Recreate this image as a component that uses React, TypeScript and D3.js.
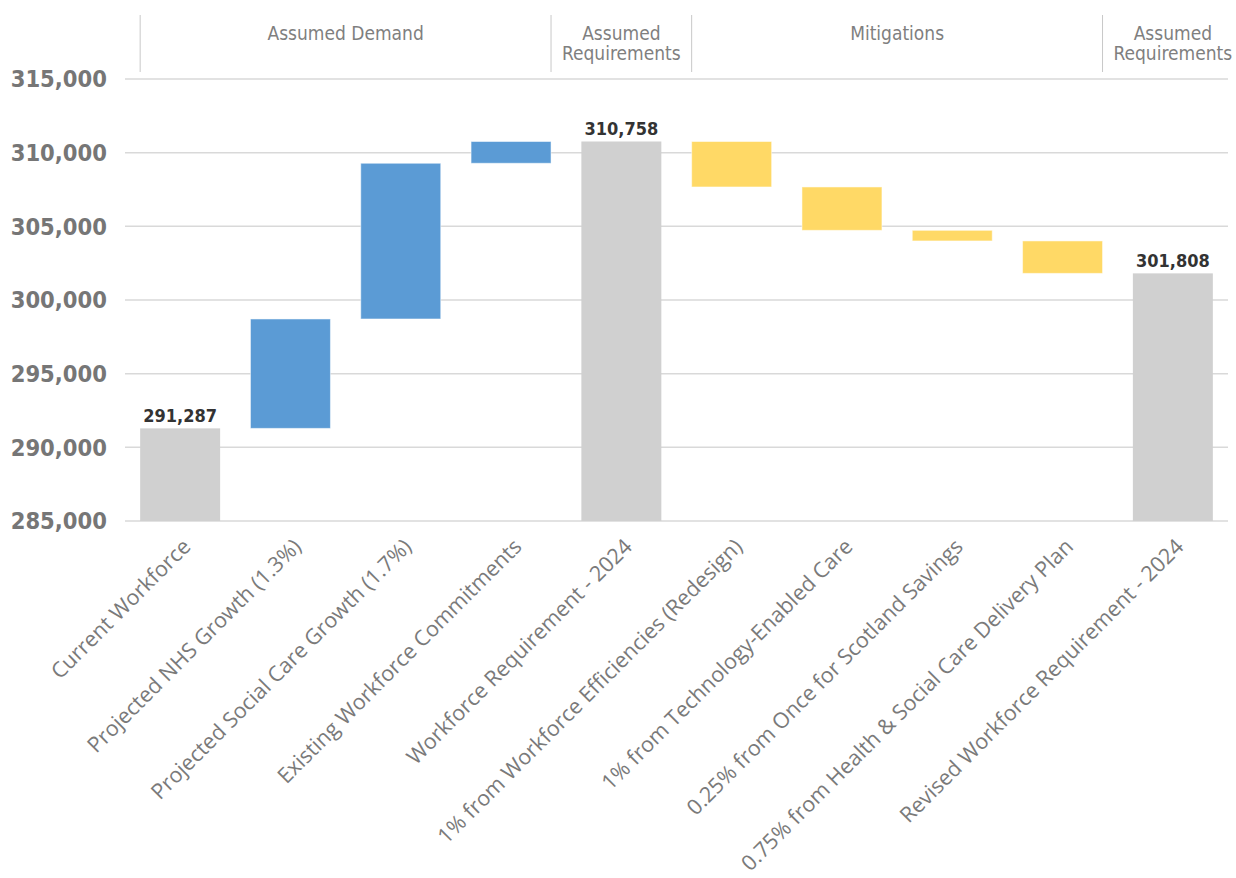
import React from 'react';
import * as d3 from 'd3';

// chart data
const categories = [
  'Current Workforce',
  'Projected NHS Growth (1.3%)',
  'Projected Social Care Growth (1.7%)',
  'Existing Workforce Commitments',
  'Workforce Requirement - 2024',
  '1% from Workforce Efficiencies (Redesign)',
  '1% from Technology-Enabled Care',
  '0.25% from Once for Scotland Savings',
  '0.75% from Health & Social Care Delivery Plan',
  'Revised Workforce Requirement - 2024',
];
// 'total' bars show the running level, 'up'/'down' are changes
const kinds = ['total', 'up', 'up', 'up', 'total', 'down', 'down', 'down', 'down', 'total'];
const changes = [291287, 7425, 10569, 1477, 0, 3086, 2943, 720, 2201, 0];

const groupLabels = [['Assumed Demand'], ['Assumed', 'Requirements'], ['Mitigations'], ['Assumed', 'Requirements']];
const groupStart = [0, 4, 5, 9];
const groupEnd = [3, 4, 8, 9];

const yTicks = [285000, 290000, 295000, 300000, 305000, 310000, 315000];

const colors: Record<string, string> = { total: '#d0d0d0', up: '#5b9bd5', down: '#ffd966' };

const W = 1236;
const H = 878;
const narrow = "'Liberation Sans Narrow', 'DejaVu Sans Condensed', sans-serif";

const App: React.FC = () => {
  const x = d3.scaleBand<string>()
    .domain(categories)
    .range([125, 1228])
    .paddingInner(0.275)
    .paddingOuter(0.1375);

  const y = d3.scaleLinear().domain([285000, 315000]).range([521, 79]);

  // running totals for the waterfall
  let level = 0;
  const bars = categories.map((c, i) => {
    const k = kinds[i];
    let lo: number, hi: number;
    if (k === 'total') {
      if (i === 0) level = changes[i];
      lo = y.domain()[0];
      hi = level;
    } else if (k === 'up') {
      lo = level;
      level += changes[i];
      hi = level;
    } else {
      hi = level;
      level -= changes[i];
      lo = level;
    }
    return { c, k, lo, hi, i };
  });

  const bw = x.bandwidth();
  const fmt = d3.format(',');
  const cx = (i: number) => (x(categories[i]) as number) + bw / 2;

  const seps: number[] = [];
  groupStart.forEach((s, g) => {
    if (groupEnd[g] > s) {
      seps.push(x(categories[s]) as number);
      seps.push((x(categories[groupEnd[g]]) as number) + bw);
    }
  });

  return (
    <svg width={W} height={H} style={{ position: 'absolute', left: 0, top: 0, background: '#fff' }}>
      {/* header groups */}
      {seps.map((sx, i) => (
        <line key={'s' + i} x1={sx} x2={sx} y1={15} y2={72} stroke="#c8c8c8" strokeWidth={1} />
      ))}
      {groupLabels.map((lines, g) => {
        const mx = (cx(groupStart[g]) + cx(groupEnd[g])) / 2;
        return (
          <text key={'g' + g} x={mx} y={40} textAnchor="middle" fill="#7f7f7f"
            fontFamily={narrow} fontSize={19}>
            {lines.map((t, j) => (
              <tspan key={j} x={mx} dy={j === 0 ? 0 : 20}>{t}</tspan>
            ))}
          </text>
        );
      })}

      {/* grid + y labels */}
      {yTicks.map(t => (
        <g key={t}>
          <line x1={125} x2={1228} y1={y(t)} y2={y(t)} stroke="#d9d9d9" strokeWidth={1.5} />
          <text x={107} y={y(t)} dy="0.36em" textAnchor="end" fill="#767676" fontWeight="bold"
            fontFamily={narrow} fontSize={23.5}>
            {fmt(t)}
          </text>
        </g>
      ))}

      {/* bars */}
      {bars.map(b => (
        <rect key={b.c} x={x(b.c)} width={bw} y={y(b.hi)} height={y(b.lo) - y(b.hi)}
          fill={colors[b.k]} stroke={b.k === 'total' ? 'none' : 'rgba(255,255,255,0.5)'} strokeWidth={1} />
      ))}

      {/* total labels */}
      {bars.filter(b => b.k === 'total').map(b => (
        <text key={'v' + b.c} x={cx(b.i)} y={y(b.hi) - 6} textAnchor="middle" fill="#333"
          fontWeight="bold" fontFamily={narrow} fontSize={18}>
          {fmt(b.hi)}
        </text>
      ))}

      {/* category labels */}
      {categories.map((c, i) => (
        <text key={'c' + c} transform={`translate(${cx(i) + 12},${548}) rotate(-45)`} textAnchor="end"
          fill="#7a7a7a" fontFamily="'Open Sans', sans-serif" fontSize={21.5}>
          {c}
        </text>
      ))}
    </svg>
  );
};

export default App;
